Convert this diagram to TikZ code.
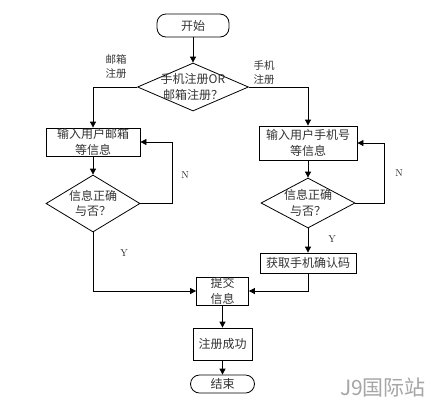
\documentclass[tikz,border=0pt]{standalone}
\usepackage{fontspec}
\newfontfamily\cjk{Noto Sans CJK SC}
\usetikzlibrary{shapes.geometric,arrows.meta}
\begin{document}
\begin{tikzpicture}[x=1pt,y=-1pt,
  base/.style={draw=black,line width=0.8pt,inner sep=0pt,text=black!80,font=\cjk\fontsize{12}{15.5}\selectfont,align=center},
  term/.style={base,rectangle,rounded corners=9pt},
  proc/.style={base,rectangle},
  dec/.style={base,diamond},
  txt/.style={inner sep=0pt,text=black!80,font=\cjk\fontsize{12}{15.5}\selectfont,align=center},
  lbl/.style={inner sep=0pt,text=black!80,font=\cjk\fontsize{10.5}{14}\selectfont,align=center},
  yn/.style={inner sep=0pt,text=black!85,font=\fontsize{10}{12}\selectfont},
  arr/.style={draw=black,line width=0.8pt,-{Triangle[length=6pt,width=6pt]}},
  wmk/.style={inner sep=0pt,text=black!35,font=\cjk\fontsize{21}{24}\selectfont}]
\useasboundingbox (0,0) rectangle (438,408);
\fill[white] (0,0) rectangle (438,408);
% nodes
\node[term,minimum width=72pt,minimum height=23pt] (start) at (193,25.5) {开始};
\node[dec,minimum width=111pt,minimum height=48pt] (d1) at (193,87) {};
\node[txt] (d1t) at (d1.center) {手机注册OR\\邮箱注册？};
\node[lbl] (lmail) at (116,67) {邮箱\\注册};
\node[lbl] (lphone) at (264,73) {手机\\注册};
\node[proc,minimum width=94pt,minimum height=28pt] (lbox) at (93,142) {输入用户邮箱\\等信息};
\node[dec,minimum width=94pt,minimum height=57pt] (ld) at (93,203.5) {};
\node[txt] (ldt) at (ld.center) {信息正确\\与否？};
\node[proc,minimum width=98pt,minimum height=34pt] (rbox) at (308,143) {输入用户手机号\\等信息};
\node[dec,minimum width=94pt,minimum height=50pt] (rd) at (308,203) {};
\node[txt] (rdt) at (rd.center) {信息正确\\与否？};
\node[proc,minimum width=96pt,minimum height=20pt] (code) at (308,263) {获取手机确认码};
\node[proc,minimum width=52pt,minimum height=28pt] (sub) at (222.5,291) {提交\\信息};
\node[proc,minimum width=59pt,minimum height=32pt] (succ) at (222.5,344) {注册成功};
\node[term,minimum width=64pt,minimum height=18pt] (end) at (222.5,384) {结束};
\node[yn] (ln) at (185,175) {N};
\node[yn] (rn) at (399,173) {N};
\node[yn] (ly) at (124,253) {Y};
\node[yn] (ry) at (332,239) {Y};
\node[wmk] (wm) at (383,387) {J9国际站};
% connectors
\draw[arr] (start.south) -- (d1.north);
\draw[arr] (d1.west) -| (lbox.north);
\draw[arr] (d1.east) -| (rbox.north);
\draw[arr] (lbox.south) -- (ld.north);
\draw[arr] (ld.east) -- ++(32,0) |- (lbox.east);
\draw[arr] (rbox.south) -- (rd.north);
\draw[arr] (rd.east) -- ++(29,0) |- (rbox.east);
\draw[arr] (rd.south) -- (code.north);
\draw[arr] (ld.south) |- (sub.west);
\draw[arr] (code.south) |- (sub.east);
\draw[arr] (sub.south) -- (succ.north);
\draw[arr] (succ.south) -- (end.north);
\end{tikzpicture}
\end{document}
